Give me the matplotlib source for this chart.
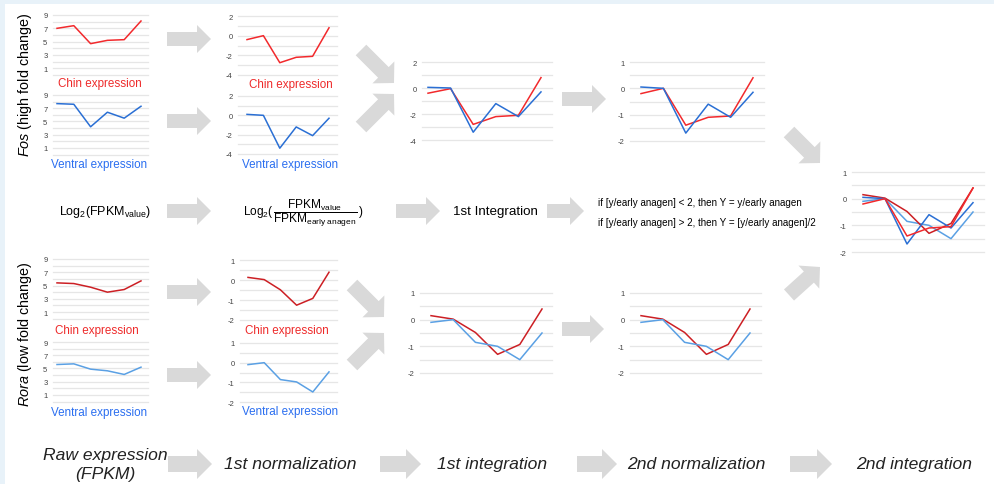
import numpy as np
import matplotlib.pyplot as plt
from matplotlib.patches import Polygon, Rectangle

plt.rcParams['font.family'] = ['Liberation Sans', 'DejaVu Sans']
plt.rcParams['mathtext.fontset'] = 'custom'
plt.rcParams['mathtext.rm'] = 'Liberation Sans'
plt.rcParams['mathtext.it'] = 'Liberation Sans:italic'

# données (6 stades)
fos_chin_raw = [7.0, 7.4, 4.7, 5.2, 5.3, 8.1]
fos_ventral_raw = [7.7, 7.6, 4.2, 6.4, 5.5, 7.3]
fos_chin_norm = [-0.4, 0.0, -2.75, -2.2, -2.1, 0.8]
fos_ventral_norm = [0.1, 0.0, -3.4, -1.2, -2.1, -0.3]
fos_chin_int1 = [-0.4, -0.05, -2.8, -2.2, -2.1, 0.8]
fos_ventral_int1 = [0.05, 0.0, -3.4, -1.2, -2.2, -0.3]
fos_chin_norm2 = [-0.2, 0.0, -1.4, -1.1, -1.05, 0.4]
fos_ventral_norm2 = [0.05, 0.0, -1.7, -0.6, -1.1, -0.15]

rora_chin_raw = [5.4, 5.3, 4.75, 4.0, 4.4, 5.7]
rora_ventral_raw = [5.6, 5.7, 4.9, 4.65, 4.1, 5.2]
rora_chin_norm = [0.13, 0.02, -0.49, -1.26, -0.92, 0.39]
rora_ventral_norm = [-0.1, 0.0, -0.86, -0.98, -1.49, -0.47]
rora_chin_int1 = [0.15, 0.02, -0.48, -1.3, -0.93, 0.4]
rora_ventral_int1 = [-0.1, 0.0, -0.85, -1.0, -1.5, -0.5]
rora_chin_norm2 = [0.15, 0.02, -0.48, -1.3, -0.93, 0.4]
rora_ventral_norm2 = [-0.1, 0.0, -0.85, -1.0, -1.5, -0.5]

etapes = ['Raw expression\n(FPKM)', '1st normalization', '1st integration',
          '2nd normalization', '2nd integration']

VERMELHO = '#f2292c'
AZUL = '#2a6fd4'
VERMELHO_ESC = '#cc1f24'
AZUL_CLARO = '#5aa0e4'
CINZA = '#d9d9d9'

W, H = 994, 485
fig = plt.figure(figsize=(W / 100, H / 100), dpi=100)
fig.patch.set_facecolor('#e8f2f9')
fig.patches.append(Rectangle((5 / W, 0), 1, 1 - 5 / H, transform=fig.transFigure,
                             facecolor='white', edgecolor='none', zorder=-5))


def painel(gx0, gx1, px0, px5, ytop, ybot, vtop, vbot, passo, ticks, series):
    ax = fig.add_axes([gx0 / W, 1 - ybot / H, (gx1 - gx0) / W, (ybot - ytop) / H])
    s = (px5 - px0) / 5
    ax.set_xlim((gx0 - px0) / s, (gx1 - px0) / s)
    ax.set_ylim(vbot, vtop)
    for v in np.arange(vbot, vtop + 1e-6, passo):
        ax.axhline(v, color='#e6e6e6', lw=0.9, zorder=0, clip_on=False)
    for ys, cor in series:
        ax.plot(range(6), ys, color=cor, lw=1.1, clip_on=False)
    ax.set_yticks(ticks)
    ax.set_yticklabels([f'{t:g}' for t in ticks])
    ax.tick_params(axis='y', length=0, pad=4, labelsize=5.5, labelcolor='#444444')
    ax.set_xticks([])
    for sp in ax.spines.values():
        sp.set_visible(False)
    ax.patch.set_alpha(0)
    return ax


# Fos
painel(53, 148, 57, 141, 16, 76, 9, 0, 1, [1, 3, 5, 7, 9], [(fos_chin_raw, VERMELHO)])
painel(53, 148, 57, 141, 96, 155.6, 9, 0, 1, [1, 3, 5, 7, 9], [(fos_ventral_raw, AZUL)])
painel(238, 337, 247, 329, 17, 76, 2, -4, 1, [-4, -2, 0, 2], [(fos_chin_norm, VERMELHO)])
painel(238, 337, 247, 329, 97, 155, 2, -4, 1, [-4, -2, 0, 2], [(fos_ventral_norm, AZUL)])
painel(422, 552, 428, 541, 63, 141, 2, -4, 1, [-4, -2, 0, 2],
       [(fos_chin_int1, VERMELHO), (fos_ventral_int1, AZUL)])
painel(630, 764, 641, 753, 63, 142, 1, -2, 0.5, [-2, -1, 0, 1],
       [(fos_chin_norm2, VERMELHO), (fos_ventral_norm2, AZUL)])
# Rora
painel(53, 148, 57, 141, 260, 319.7, 9, 0, 1, [1, 3, 5, 7, 9], [(rora_chin_raw, VERMELHO_ESC)])
painel(53, 148, 57, 141, 343, 402.6, 9, 0, 1, [1, 3, 5, 7, 9], [(rora_ventral_raw, AZUL_CLARO)])
painel(240, 337, 248, 329, 261, 321, 1, -2, 0.5, [-2, -1, 0, 1], [(rora_chin_norm, VERMELHO_ESC)])
painel(240, 337, 248, 329, 344, 403, 1, -2, 0.5, [-2, -1, 0, 1], [(rora_ventral_norm, AZUL_CLARO)])
painel(420, 552, 431, 542, 294, 374, 1, -2, 0.5, [-2, -1, 0, 1],
       [(rora_chin_int1, VERMELHO_ESC), (rora_ventral_int1, AZUL_CLARO)])
painel(630, 761, 641, 750, 294, 374, 1, -2, 0.5, [-2, -1, 0, 1],
       [(rora_chin_norm2, VERMELHO_ESC), (rora_ventral_norm2, AZUL_CLARO)])
# integração final
painel(852, 984, 863, 973, 173, 253, 1, -2, 0.5, [-2, -1, 0, 1],
       [(rora_ventral_int1, AZUL_CLARO), (rora_chin_int1, VERMELHO_ESC),
        (fos_ventral_norm2, AZUL), (fos_chin_norm2, VERMELHO)])


def px(x, y):
    return (x / W, 1 - y / H)


def texto(x, y, s, **kw):
    fig.text(x / W, 1 - y / H, s, **kw)


def seta(x0, y0, x1, y1, haste=14, cabeca=28, comp_cab=14):
    d = np.array([x1 - x0, y1 - y0], float)
    L = np.hypot(*d)
    u = d / L
    n = np.array([-u[1], u[0]])
    a = np.array([x0, y0], float)
    b = a + u * (L - comp_cab)
    pts = [a + n * haste / 2, b + n * haste / 2, b + n * cabeca / 2,
           np.array([x1, y1], float), b - n * cabeca / 2, b - n * haste / 2,
           a - n * haste / 2]
    fig.patches.append(Polygon([px(*p) for p in pts], closed=True,
                               transform=fig.transFigure, facecolor=CINZA,
                               edgecolor='none', zorder=-1))


# setas horizontais
for y in [40, 122, 293, 376, 212]:
    seta(167, y, 211, y)
seta(396, 212, 440, 212)
seta(562, 100, 606, 100)
seta(562, 330, 604, 330)
seta(547, 212, 584, 212)
for x0, x1 in [(168, 212), (380, 421), (577, 617), (790, 832)]:
    seta(x0, 465, x1, 465, haste=16, cabeca=30, comp_cab=15)
# setas diagonais
seta(361, 51, 394, 84, haste=15, cabeca=31, comp_cab=15)
seta(361, 128, 394, 95, haste=15, cabeca=31, comp_cab=15)
seta(352, 286, 384, 318, haste=15, cabeca=31, comp_cab=15)
seta(352, 366, 384, 334, haste=15, cabeca=31, comp_cab=15)
seta(789, 133, 820, 164, haste=15, cabeca=31, comp_cab=15)
seta(789, 296, 820, 268, haste=15, cabeca=31, comp_cab=15)

# rótulos das séries
for x, y in [(100, 84), (291, 85), (97, 331), (287, 331)]:
    texto(x, y, 'Chin expression', color='#ee2a2a', fontsize=8.4, ha='center', va='center')
for x, y in [(99, 165), (290, 165), (99, 413), (290, 412)]:
    texto(x, y, 'Ventral expression', color='#2a6ef0', fontsize=8.4, ha='center', va='center')

texto(25, 85, r'$\it{Fos}$ (high fold change)', rotation=90, fontsize=10.4,
      ha='center', va='center')
texto(25, 334, r'$\it{Rora}$ (low fold change)', rotation=90, fontsize=10.4,
      ha='center', va='center')

# fórmulas
texto(105, 212, r'Log$_2$(FPKM$_{\mathrm{value}}$)', fontsize=9, ha='center', va='center')
texto(243, 213, r'Log$_2$($\,\dfrac{\mathrm{FPKM}_{\mathrm{value}}}{\mathrm{FPKM}_{\mathrm{early\ anagen}}}\,$)',
      fontsize=8.6, ha='left', va='center')
texto(453, 212, '1st Integration', fontsize=9.6, ha='left', va='center')
texto(598, 203, 'if [y/early anagen] < 2, then Y = y/early anagen', fontsize=7.1,
      ha='left', va='center')
texto(598, 223, 'if [y/early anagen] > 2, then Y = [y/early anagen]/2', fontsize=7.1,
      ha='left', va='center')

# etapas
for x, s in zip([105, 290, 492, 696, 914], etapes):
    texto(x, 465, s, fontsize=12.6, style='italic', ha='center', va='center',
          color='#222222', linespacing=1.3)

fig.savefig('out.png', dpi=100, facecolor=fig.get_facecolor())
